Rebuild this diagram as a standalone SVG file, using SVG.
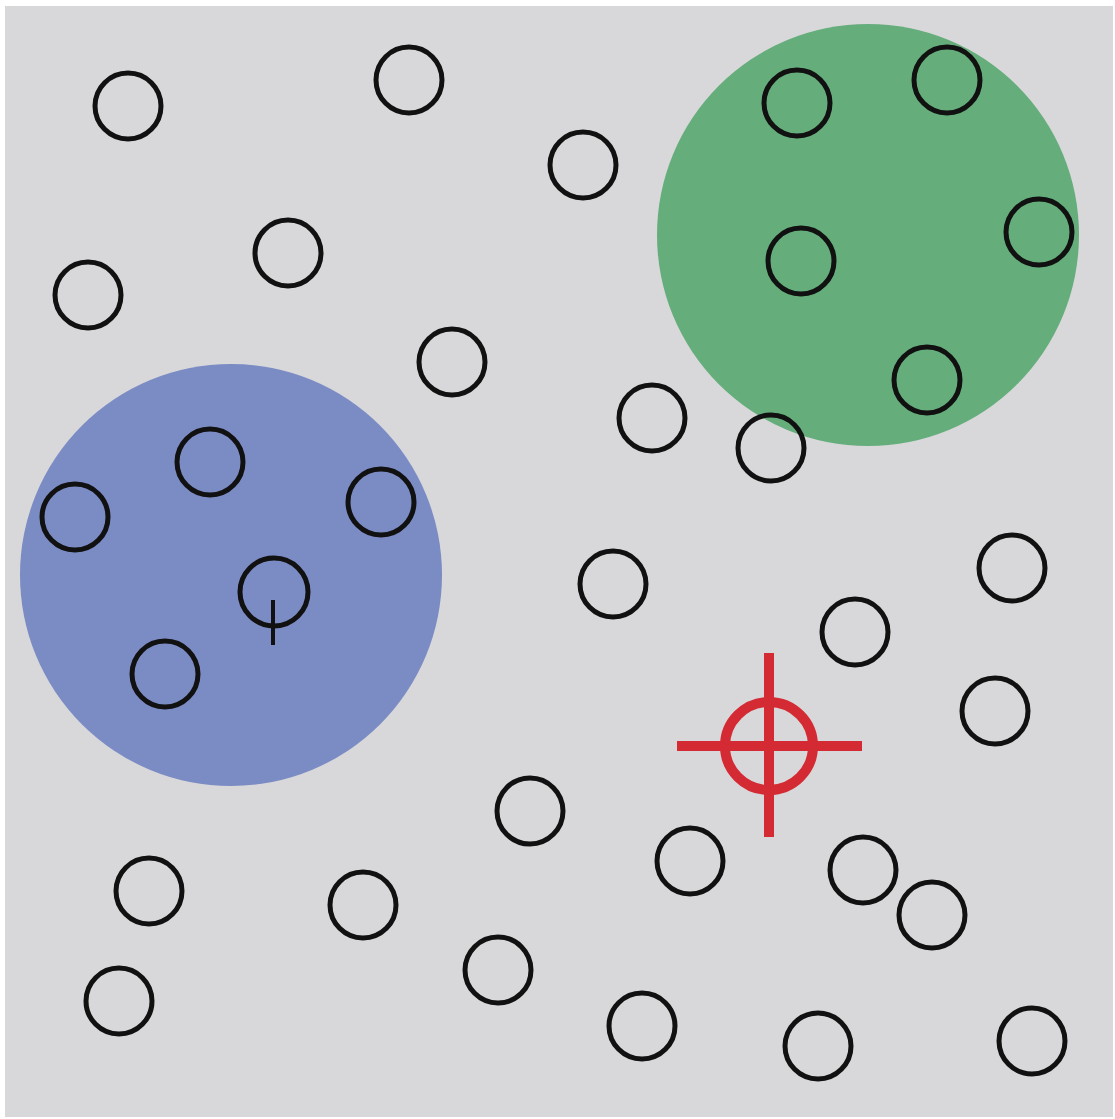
<svg xmlns="http://www.w3.org/2000/svg" width="1115" height="1119" viewBox="0 0 1115 1119">
<style>
.d{fill:none;stroke:#111;stroke-width:5}
.t{stroke:#111;stroke-width:4}
.r{fill:none;stroke:#d42a33;stroke-width:10}
</style>
<rect x="0" y="0" width="1115" height="1119" fill="#ffffff"/>
<rect x="5" y="6" width="1108" height="1111" fill="#d8d8da"/>
<g id="cluster-blue"><circle cx="231" cy="575" r="211" fill="#7b8bc4"/></g>
<g id="cluster-green"><circle cx="868" cy="235" r="211" fill="#65ad7b"/></g>
<g id="points">
<circle class="d" cx="128" cy="106" r="33"/>
<circle class="d" cx="409" cy="80" r="33"/>
<circle class="d" cx="583" cy="165" r="33"/>
<circle class="d" cx="288" cy="253" r="33"/>
<circle class="d" cx="88" cy="295" r="33"/>
<circle class="d" cx="452" cy="362" r="33"/>
<circle class="d" cx="652" cy="418" r="33"/>
<circle class="d" cx="771" cy="448" r="33"/>
<circle class="d" cx="797" cy="103" r="33"/>
<circle class="d" cx="947" cy="80" r="33"/>
<circle class="d" cx="801" cy="261" r="33"/>
<circle class="d" cx="1039" cy="232" r="33"/>
<circle class="d" cx="927" cy="380" r="33"/>
<circle class="d" cx="210" cy="462" r="33"/>
<circle class="d" cx="75" cy="517" r="33"/>
<circle class="d" cx="381" cy="502" r="33"/>
<circle class="d" cx="274" cy="592" r="34"/>
<line class="t" x1="273" y1="600" x2="273" y2="645"/>
<circle class="d" cx="165" cy="674" r="33"/>
<circle class="d" cx="613" cy="584" r="33"/>
<circle class="d" cx="1012" cy="568" r="33"/>
<circle class="d" cx="855" cy="632" r="33"/>
<circle class="d" cx="995" cy="711" r="33"/>
<circle class="d" cx="530" cy="811" r="33"/>
<circle class="d" cx="690" cy="861" r="33"/>
<circle class="d" cx="863" cy="870" r="33"/>
<circle class="d" cx="932" cy="915" r="33"/>
<circle class="d" cx="149" cy="891" r="33"/>
<circle class="d" cx="363" cy="905" r="33"/>
<circle class="d" cx="498" cy="970" r="33"/>
<circle class="d" cx="119" cy="1001" r="33"/>
<circle class="d" cx="642" cy="1026" r="33"/>
<circle class="d" cx="818" cy="1046" r="33"/>
<circle class="d" cx="1032" cy="1041" r="33"/>
</g>
<g id="target">
<circle class="r" cx="769" cy="746" r="44" stroke-width="11"/>
<line class="r" x1="769" y1="653" x2="769" y2="837"/>
<line class="r" x1="677" y1="746" x2="862" y2="746"/>
</g>
</svg>
